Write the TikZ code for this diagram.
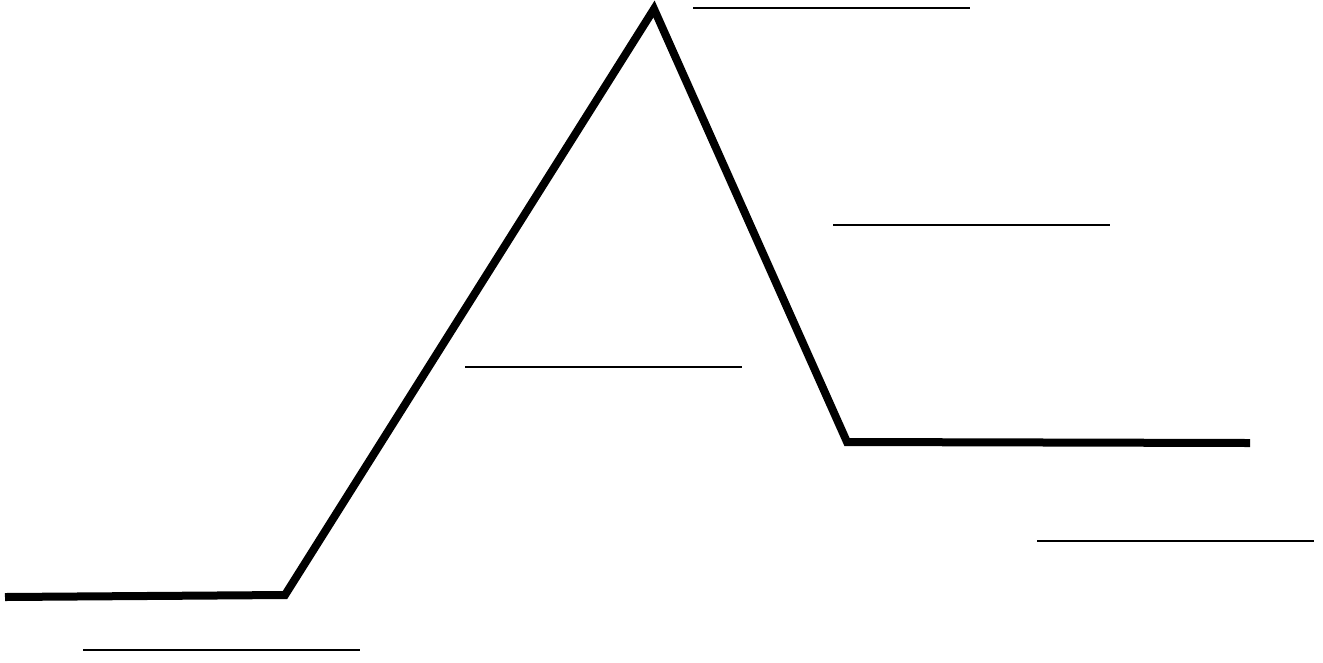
\documentclass[tikz,border=0pt]{standalone}
\begin{document}
\begin{tikzpicture}[x=0.75pt,y=0.75pt,yscale=-1,xscale=1]
        \useasboundingbox (0,0) rectangle (1323,662);
        \draw  [line width=6pt]  (5,597) -- (285,595) -- (654,9) -- (847,442) -- (1250,443) ;
        \draw  [line width=1.5pt]  (693,8) -- (970,8) ;
        \draw  [line width=1.5pt]  (833,225) -- (1110,225) ;
        \draw  [line width=1.5pt]  (465,367) -- (742,367) ;
        \draw  [line width=1.5pt]  (1037,541) -- (1314,541) ;
        \draw  [line width=1.5pt]  (83,650) -- (360,650) ;
        \end{tikzpicture}
\end{document}
